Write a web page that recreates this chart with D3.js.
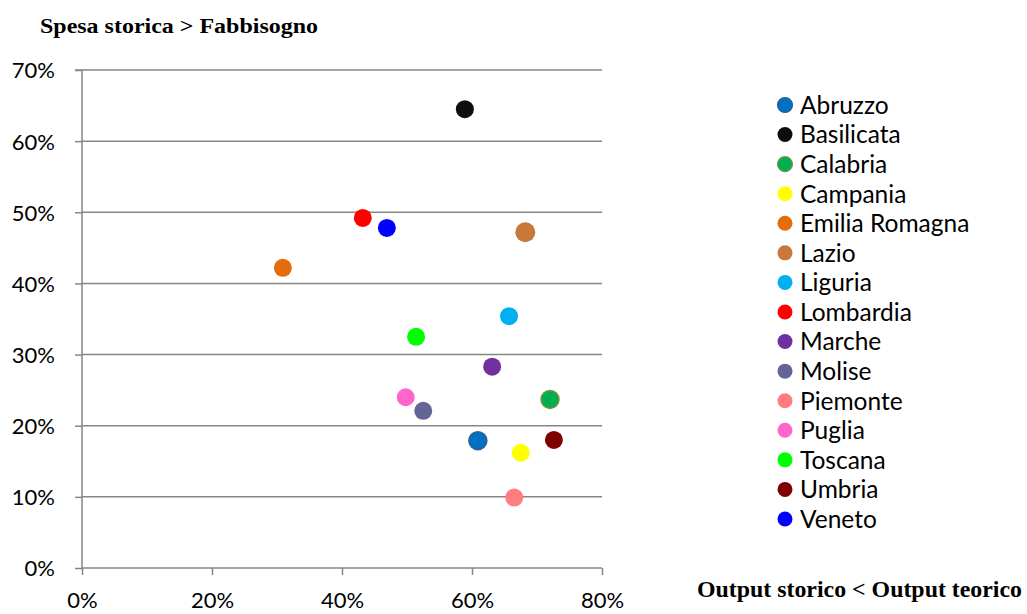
<!DOCTYPE html>
<html>
<head>
<meta charset="utf-8">
<script src="https://cdn.jsdelivr.net/npm/d3@7"></script>
<style>
  html, body { margin: 0; padding: 0; background: #fff; }
  svg { display: block; }
</style>
</head>
<body>
<div id="chart"></div>
<script>
// Regions and their coordinates: x = output ratio, y = spending ratio
const regions = ["Abruzzo", "Basilicata", "Calabria", "Campania", "Emilia Romagna", "Lazio",
  "Liguria", "Lombardia", "Marche", "Molise", "Piemonte", "Puglia", "Toscana", "Umbria", "Veneto"];
const outputValues = [0.609, 0.589, 0.720, 0.675, 0.309, 0.682, 0.657, 0.432, 0.631, 0.525, 0.665, 0.498, 0.514, 0.726, 0.469];
const spendValues  = [0.179, 0.645, 0.237, 0.162, 0.422, 0.472, 0.354, 0.492, 0.283, 0.221, 0.099, 0.240, 0.325, 0.180, 0.478];
const fillColors   = ["#0070c0", "#0d0d0d", "#00b050", "#ffff00", "#e46c0a", "#c8783a", "#00b0f0", "#ff0000",
  "#7030a0", "#646496", "#ff7c80", "#ff66cc", "#00ff00", "#800000", "#0000ff"];
const strokeColors = ["#2e5f96", null, "#7f8f3f", null, null, null, null, null,
  null, null, null, null, null, null, null];
const xTicks = [0, 0.2, 0.4, 0.6, 0.8];
const yTicks = [0, 0.1, 0.2, 0.3, 0.4, 0.5, 0.6, 0.7];

const W = 1027, H = 614;
const svg = d3.select("#chart").append("svg").attr("width", W).attr("height", H);

const x = d3.scaleLinear().domain([0, 0.8]).range([82, 602]);
const y = d3.scaleLinear().domain([0, 0.7]).range([568, 70]);
const pct = d3.format(".0%");
const axisColor = "#868686";
const sansFont = "Lato, 'Open Sans', sans-serif";
const serifFont = "'Liberation Serif', 'Times New Roman', serif";

// Horizontal gridlines
svg.append("g").selectAll("line").data(yTicks.filter(d => d > 0)).join("line")
  .attr("x1", x(0)).attr("x2", x(0.8))
  .attr("y1", d => y(d)).attr("y2", d => y(d))
  .attr("stroke", axisColor).attr("stroke-width", 1.5);

// Axes
const yAxis = svg.append("g").attr("transform", `translate(${x(0)},0)`)
  .call(d3.axisLeft(y).tickValues(yTicks).tickFormat(pct).tickSize(7));
const xAxis = svg.append("g").attr("transform", `translate(0,${y(0)})`)
  .call(d3.axisBottom(x).tickValues(xTicks).tickFormat(pct).tickSize(7));

[xAxis, yAxis].forEach(g => {
  g.select(".domain").attr("stroke", axisColor).attr("stroke-width", 1.5);
  g.selectAll(".tick line").attr("stroke", axisColor).attr("stroke-width", 1.5);
  g.selectAll(".tick text").attr("fill", "#000")
    .style("font-family", sansFont).style("font-size", "22px");
});
yAxis.select(".domain").attr("d", `M-7,${y(0.7)}H0V${y(0)}`);
yAxis.selectAll(".tick text").attr("x", -27).attr("dy", "0.36em");
xAxis.select(".domain").attr("d", `M${x(0)},0H${x(0.8)}`);
xAxis.selectAll(".tick text").attr("y", 40).attr("dy", 0);

// Points
const data = regions.map((r, i) => ({ r, x: outputValues[i], y: spendValues[i], fill: fillColors[i], stroke: strokeColors[i] }));
svg.append("g").selectAll("circle").data(data).join("circle")
  .attr("cx", d => x(d.x)).attr("cy", d => y(d.y))
  .attr("r", d => d.r === "Lazio" ? 10 : 9)
  .attr("fill", d => d.fill)
  .attr("stroke", d => d.stroke || "none")
  .attr("stroke-width", 1.5);

// Legend
const legend = svg.append("g").attr("transform", "translate(785,105)");
const rows = legend.selectAll("g").data(data).join("g")
  .attr("transform", (d, i) => `translate(0,${i * 29.57})`);
rows.append("circle").attr("r", 7.5)
  .attr("fill", d => d.fill)
  .attr("stroke", d => d.stroke || "none").attr("stroke-width", 1.2);
rows.append("text").attr("x", 15).attr("dy", "0.36em")
  .style("font-family", sansFont).style("font-size", "24.5px")
  .attr("fill", "#000").text(d => d.r);

// Quadrant labels
svg.append("text").attr("x", 40).attr("y", 33)
  .attr("textLength", 278).attr("lengthAdjust", "spacingAndGlyphs")
  .style("font-family", serifFont)
  .style("font-weight", "bold").style("font-size", "21px")
  .text("Spesa storica > Fabbisogno");
svg.append("text").attr("x", 697).attr("y", 597)
  .attr("textLength", 325).attr("lengthAdjust", "spacingAndGlyphs")
  .style("font-family", serifFont)
  .style("font-weight", "bold").style("font-size", "23px")
  .text("Output storico < Output teorico");
</script>
</body>
</html>
